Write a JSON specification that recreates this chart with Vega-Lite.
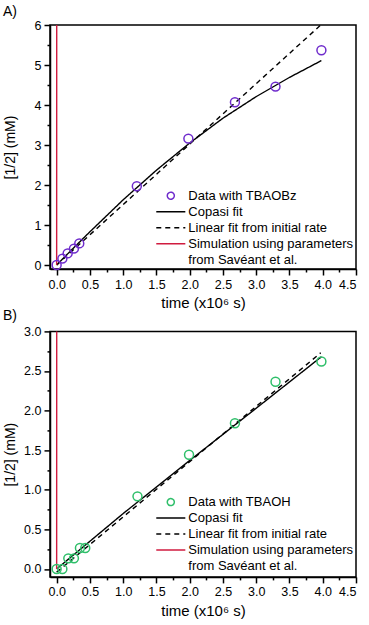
{
  "$schema": "https://vega.github.io/schema/vega-lite/v6.json",
  "padding": {"left": 2, "top": 4, "right": 0, "bottom": 0},
  "background": "white",
  "config": {
    "font": "Liberation Sans",
    "view": {"stroke": "black", "strokeWidth": 1.5},
    "axis": {"domainColor": "black", "domainWidth": 1.5, "tickColor": "black", "tickWidth": 1.5, "grid": false, "labelColor": "black", "titleColor": "black", "labelFont": "Liberation Sans", "titleFont": "Liberation Sans", "labelFontSize": 12.5, "titleFontSize": 14, "titleFontWeight": "normal"},
    "title": {"font": "Liberation Sans", "fontSize": 14, "fontWeight": "normal", "anchor": "start", "frame": "group", "color": "black"},
    "legend": {"labelFont": "Liberation Sans", "labelFontSize": 13, "labelColor": "black"}
  },
  "vconcat": [
    {
      "title": {"text": "A)", "dx": -47, "offset": 0},
      "width": 306,
      "height": 244,
      "data": {"values": [
        {"series": "Data with TBAOBz", "t": 0, "c": 0},
        {"series": "Data with TBAOBz", "t": 0.086, "c": 0.16},
        {"series": "Data with TBAOBz", "t": 0.165, "c": 0.29},
        {"series": "Data with TBAOBz", "t": 0.26, "c": 0.41},
        {"series": "Data with TBAOBz", "t": 0.34, "c": 0.54},
        {"series": "Data with TBAOBz", "t": 1.205, "c": 1.97},
        {"series": "Data with TBAOBz", "t": 1.98, "c": 3.16},
        {"series": "Data with TBAOBz", "t": 2.68, "c": 4.07},
        {"series": "Data with TBAOBz", "t": 3.29, "c": 4.46},
        {"series": "Data with TBAOBz", "t": 3.98, "c": 5.37},
        {"series": "Copasi fit", "t": 0, "c": 0},
        {"series": "Copasi fit", "t": 0.25, "c": 0.42},
        {"series": "Copasi fit", "t": 0.5, "c": 0.83},
        {"series": "Copasi fit", "t": 1.0, "c": 1.63},
        {"series": "Copasi fit", "t": 1.5, "c": 2.37},
        {"series": "Copasi fit", "t": 2.0, "c": 3.05},
        {"series": "Copasi fit", "t": 2.5, "c": 3.67},
        {"series": "Copasi fit", "t": 3.0, "c": 4.21},
        {"series": "Copasi fit", "t": 3.5, "c": 4.69},
        {"series": "Copasi fit", "t": 3.98, "c": 5.11},
        {"series": "Linear fit from initial rate", "t": 0, "c": 0},
        {"series": "Linear fit from initial rate", "t": 3.97, "c": 6.0},
        {"series": "Simulation using parameters from Savéant et al.", "t": 0, "c": 0},
        {"series": "Simulation using parameters from Savéant et al.", "t": 0.001, "c": 6.0}
      ]},
      "encoding": {
        "x": {"field": "t", "type": "quantitative", "scale": {"domain": [-0.1, 4.5], "nice": false, "zero": false}},
        "y": {"field": "c", "type": "quantitative", "scale": {"domain": [-0.1, 6], "nice": false, "zero": false}}
      },
      "layer": [
        {
          "transform": [{"filter": "datum.series != 'Data with TBAOBz'"}],
          "mark": {"type": "line", "strokeWidth": 1.4},
          "encoding": {
            "x": {"field": "t", "type": "quantitative", "title": "time (x10⁶ s)", "axis": {"orient": "bottom", "values": [0, 0.5, 1, 1.5, 2, 2.5, 3, 3.5, 4, 4.5], "format": ".1f", "tickSize": 6, "labelPadding": 3, "titlePadding": 5, "titleFontSize": 15}},
            "y": {"field": "c", "type": "quantitative", "title": "[1/2] (mM)", "axis": {"orient": "left", "values": [0, 1, 2, 3, 4, 5, 6], "format": "d", "tickSize": 6, "labelPadding": 3, "titleX": -33}},
            "color": {"field": "series", "type": "nominal", "scale": {"domain": ["Data with TBAOBz", "Copasi fit", "Linear fit from initial rate", "Simulation using parameters from Savéant et al."], "range": ["#6f2ccc", "#000000", "#000000", "#d01b3f"]},
              "legend": {"title": null, "orient": "none", "legendX": 114.3, "legendY": 164.2, "padding": 0, "rowPadding": 2, "symbolSize": 49, "symbolStrokeWidth": 1.5, "labelOffset": 11, "labelLimit": 300,
                "labelExpr": "datum.label == 'Simulation using parameters from Savéant et al.' ? ['Simulation using parameters', 'from Savéant et al.'] : datum.label",
                "encode": {
                  "symbols": {"update": {
                    "shape": {"signal": "datum.value == 'Data with TBAOBz' ? 'circle' : 'M-4.15,0H4.15'"},
                    "size": {"value": 49},
                    "strokeDash": {"signal": "datum.value == 'Linear fit from initial rate' ? [5, 4] : [1, 0]"},
                    "fill": {"value": "transparent"},
                    "strokeWidth": {"value": 1.5}
                  }},
                  "labels": {"update": {"lineHeight": {"value": 16}}}
                }}},
            "strokeDash": {"field": "series", "type": "nominal", "scale": {"domain": ["Copasi fit", "Linear fit from initial rate", "Simulation using parameters from Savéant et al."], "range": [[1, 0], [5, 4], [1, 0]]}, "legend": null}
          }
        },
        {
          "transform": [{"filter": "datum.series == 'Data with TBAOBz'"}],
          "mark": {"type": "point", "filled": false, "size": 80, "strokeWidth": 1.5, "opacity": 1},
          "encoding": {
            "x": {"field": "t", "type": "quantitative", "title": null, "axis": {"orient": "bottom", "values": [0.25, 0.75, 1.25, 1.75, 2.25, 2.75, 3.25, 3.75, 4.25], "labels": false, "domain": false, "tickSize": 3}},
            "y": {"field": "c", "type": "quantitative", "title": null, "axis": {"orient": "left", "values": [0.5, 1.5, 2.5, 3.5, 4.5, 5.5], "labels": false, "domain": false, "tickSize": 3}},
            "color": {"field": "series", "type": "nominal"}
          }
        }
      ],
      "resolve": {"axis": {"x": "independent", "y": "independent"}}
    },
    {
      "title": {"text": "B)", "dx": -47, "offset": 2},
      "width": 306,
      "height": 245.5,
      "data": {"values": [
        {"series": "Data with TBAOH", "t": 0, "c": 0},
        {"series": "Data with TBAOH", "t": 0.086, "c": 0},
        {"series": "Data with TBAOH", "t": 0.175, "c": 0.134},
        {"series": "Data with TBAOH", "t": 0.26, "c": 0.134},
        {"series": "Data with TBAOH", "t": 0.35, "c": 0.265},
        {"series": "Data with TBAOH", "t": 0.43, "c": 0.265},
        {"series": "Data with TBAOH", "t": 1.215, "c": 0.917},
        {"series": "Data with TBAOH", "t": 1.99, "c": 1.443},
        {"series": "Data with TBAOH", "t": 2.68, "c": 1.84},
        {"series": "Data with TBAOH", "t": 3.29, "c": 2.365},
        {"series": "Data with TBAOH", "t": 3.98, "c": 2.62},
        {"series": "Copasi fit", "t": 0, "c": 0},
        {"series": "Copasi fit", "t": 1.0, "c": 0.7},
        {"series": "Copasi fit", "t": 2.0, "c": 1.37},
        {"series": "Copasi fit", "t": 3.0, "c": 2.03},
        {"series": "Copasi fit", "t": 3.98, "c": 2.68},
        {"series": "Linear fit from initial rate", "t": 0, "c": -0.04},
        {"series": "Linear fit from initial rate", "t": 3.97, "c": 2.73},
        {"series": "Simulation using parameters from Savéant et al.", "t": 0, "c": 0},
        {"series": "Simulation using parameters from Savéant et al.", "t": 0.001, "c": 3.0}
      ]},
      "encoding": {
        "x": {"field": "t", "type": "quantitative", "scale": {"domain": [-0.1, 4.5], "nice": false, "zero": false}},
        "y": {"field": "c", "type": "quantitative", "scale": {"domain": [-0.1, 3.0], "nice": false, "zero": false}}
      },
      "layer": [
        {
          "transform": [{"filter": "datum.series != 'Data with TBAOH'"}],
          "mark": {"type": "line", "strokeWidth": 1.4},
          "encoding": {
            "x": {"field": "t", "type": "quantitative", "title": "time (x10⁶ s)", "axis": {"orient": "bottom", "values": [0, 0.5, 1, 1.5, 2, 2.5, 3, 3.5, 4, 4.5], "format": ".1f", "tickSize": 6, "labelPadding": 3, "titlePadding": 5, "titleFontSize": 15}},
            "y": {"field": "c", "type": "quantitative", "title": "[1/2] (mM)", "axis": {"orient": "left", "values": [0, 0.5, 1, 1.5, 2, 2.5, 3], "format": ".1f", "tickSize": 6, "labelPadding": 3, "titleX": -33}},
            "color": {"field": "series", "type": "nominal", "scale": {"domain": ["Data with TBAOH", "Copasi fit", "Linear fit from initial rate", "Simulation using parameters from Savéant et al."], "range": ["#2fbf6a", "#000000", "#000000", "#d01b3f"]},
              "legend": {"title": null, "orient": "none", "legendX": 114.3, "legendY": 164.2, "padding": 0, "rowPadding": 2, "symbolSize": 49, "symbolStrokeWidth": 1.5, "labelOffset": 11, "labelLimit": 300,
                "labelExpr": "datum.label == 'Simulation using parameters from Savéant et al.' ? ['Simulation using parameters', 'from Savéant et al.'] : datum.label",
                "encode": {
                  "symbols": {"update": {
                    "shape": {"signal": "datum.value == 'Data with TBAOH' ? 'circle' : 'M-4.15,0H4.15'"},
                    "size": {"value": 49},
                    "strokeDash": {"signal": "datum.value == 'Linear fit from initial rate' ? [5, 4] : [1, 0]"},
                    "fill": {"value": "transparent"},
                    "strokeWidth": {"value": 1.5}
                  }},
                  "labels": {"update": {"lineHeight": {"value": 16}}}
                }}},
            "strokeDash": {"field": "series", "type": "nominal", "scale": {"domain": ["Copasi fit", "Linear fit from initial rate", "Simulation using parameters from Savéant et al."], "range": [[1, 0], [5, 4], [1, 0]]}, "legend": null}
          }
        },
        {
          "transform": [{"filter": "datum.series == 'Data with TBAOH'"}],
          "mark": {"type": "point", "filled": false, "size": 80, "strokeWidth": 1.5, "opacity": 1},
          "encoding": {
            "x": {"field": "t", "type": "quantitative", "title": null, "axis": {"orient": "bottom", "values": [0.25, 0.75, 1.25, 1.75, 2.25, 2.75, 3.25, 3.75, 4.25], "labels": false, "domain": false, "tickSize": 3}},
            "y": {"field": "c", "type": "quantitative", "title": null, "axis": {"orient": "left", "values": [0.25, 0.75, 1.25, 1.75, 2.25, 2.75], "labels": false, "domain": false, "tickSize": 3}},
            "color": {"field": "series", "type": "nominal"}
          }
        }
      ],
      "resolve": {"axis": {"x": "independent", "y": "independent"}}
    }
  ],
  "bounds": "flush",
  "spacing": 62.4,
  "resolve": {"scale": {"color": "independent", "strokeDash": "independent"}, "legend": {"color": "independent"}}
}
